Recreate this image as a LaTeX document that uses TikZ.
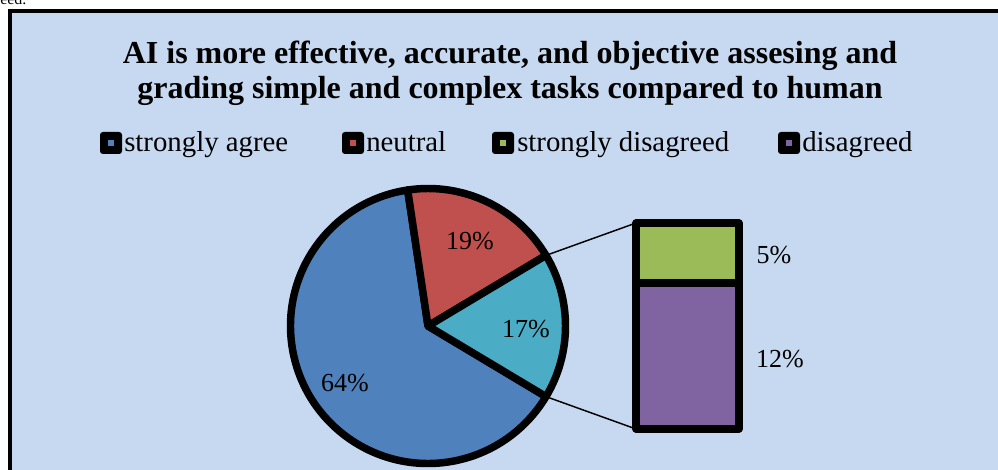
\documentclass[tikz,border=0pt]{standalone}
\usepackage{fontspec}
\setmainfont{Liberation Serif}
\usetikzlibrary{positioning, calc}
\definecolor{chartbg}{HTML}{C6D9F1}
\definecolor{pieblue}{HTML}{4F81BD}
\definecolor{piered}{HTML}{C0504D}
\definecolor{piecyan}{HTML}{4BACC6}
\definecolor{piegreen}{HTML}{9BBB59}
\definecolor{piepurple}{HTML}{8064A2}
\tikzset{
    slice/.style={
        draw=black,
        line width=5.6pt,
        line join=round
    },
    barpart/.style={
        draw=black,
        line width=5.3pt,
        line join=round,
        minimum width=77.25pt,
        inner sep=0pt,
        outer sep=0pt
    },
    legmark/.style={
        fill=black,
        rounded corners=2.2pt,
        minimum size=16.5pt,
        inner sep=0pt
    },
    legdot/.style={
        minimum size=5.2pt,
        inner sep=0pt
    },
    legtext/.style={
        font=\fontsize{21.6}{25}\selectfont,
        anchor=base west,
        inner sep=0pt
    },
    pct/.style={
        font=\fontsize{19.5}{23}\selectfont,
        anchor=base,
        inner sep=0pt
    }
}

\begin{document}
\begin{tikzpicture}[x=0.75pt, y=0.75pt]

\tikzstyle{link} = [draw=black, line width=1.1pt]

\useasboundingbox (0,0) rectangle (998,470);

% text of the page above the chart, cut by the image edge
\node[font=\fontsize{12}{14}\selectfont, anchor=base west, inner sep=0pt] (cut) at (0,465.5) {eed.};

% chart area
\fill[chartbg] (10,-5) rectangle (1005,459);
\draw[line width=3.6pt] (10,-5) -- (10,459) -- (1005,459);

% title
\node[font=\fontsize{24}{28}\selectfont\bfseries, anchor=base, inner sep=0pt] (title1) at (510,406) {AI is more effective, accurate, and objective assesing and};
\node[font=\fontsize{24}{28}\selectfont\bfseries, anchor=base, inner sep=0pt] (title2) at (510,371) {grading simple and complex tasks compared to human};

% legend
\node[legmark] (lm1) at (111,327) {};
\node[legdot, fill=pieblue] at (lm1) {};
\node[legtext] (lt1) at (124,318) {strongly agree};
\node[legmark] (lm2) at (353,327) {};
\node[legdot, fill=piered] at (lm2) {};
\node[legtext] (lt2) at (366,318) {neutral};
\node[legmark] (lm3) at (503,327) {};
\node[legdot, fill=piegreen] at (lm3) {};
\node[legtext] (lt3) at (517,318) {strongly disagreed};
\node[legmark] (lm4) at (789,327) {};
\node[legdot, fill=piepurple] at (lm4) {};
\node[legtext] (lt4) at (802,318) {disagreed};

% pie
\coordinate (pc) at (428,144);
\coordinate (sl1) at ($(pc)+(30.9:137.5)$);
\coordinate (sl2) at ($(pc)+(-30.9:137.5)$);

\draw[slice, fill=pieblue] (pc) -- ++(98.5:137.5) arc[start angle=98.5, end angle=329.1, radius=137.5] -- cycle;
\draw[slice, fill=piered] (pc) -- ++(30.9:137.5) arc[start angle=30.9, end angle=98.5, radius=137.5] -- cycle;
\draw[slice, fill=piecyan] (pc) -- ++(-30.9:137.5) arc[start angle=-30.9, end angle=30.9, radius=137.5] -- cycle;

\node[pct] (p64) at (345,78) {64\%};
\node[pct] (p19) at (470,220) {19\%};
\node[pct] (p17) at (526,132) {17\%};

% second bar
\node[barpart, fill=piegreen, minimum height=45pt] (grn) at (687.5,217) {};
\node[barpart, fill=piepurple, minimum height=109.5pt, below=0pt of grn] (prp) {};

\draw[link] (sl1) -- (grn.north west);
\draw[link] (sl2) -- (prp.south west);

\node[pct] (p5) at (774,206) {5\%};
\node[pct] (p12) at (780,102) {12\%};

\end{tikzpicture}
\end{document}
